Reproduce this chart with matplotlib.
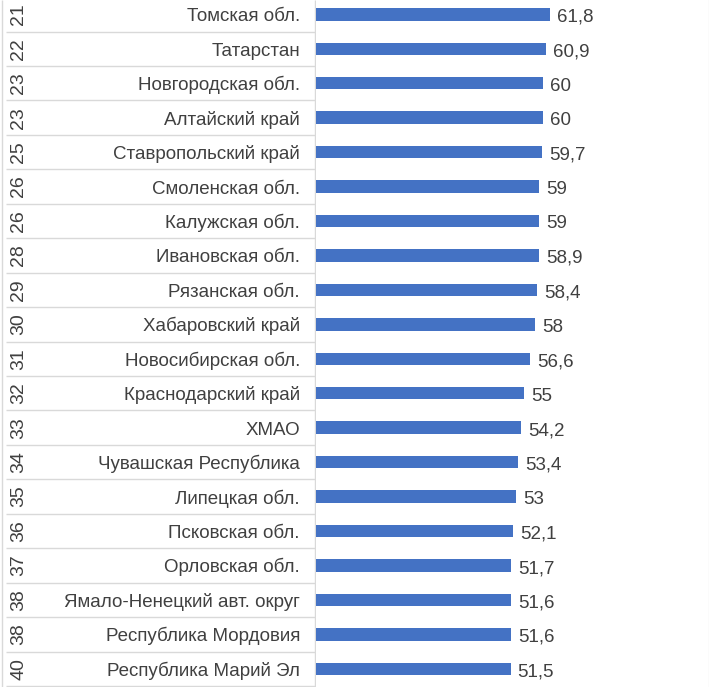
import numpy as np
import matplotlib.pyplot as plt

plt.rcParams['font.family'] = ['Liberation Sans', 'DejaVu Sans']

ranks = [21, 22, 23, 23, 25, 26, 26, 28, 29, 30, 31, 32, 33, 34, 35, 36, 37, 38, 38, 40]
regions = ['Томская обл.', 'Татарстан', 'Новгородская обл.', 'Алтайский край',
           'Ставропольский край', 'Смоленская обл.', 'Калужская обл.', 'Ивановская обл.',
           'Рязанская обл.', 'Хабаровский край', 'Новосибирская обл.', 'Краснодарский край',
           'ХМАО', 'Чувашская Республика', 'Липецкая обл.', 'Псковская обл.',
           'Орловская обл.', 'Ямало-Ненецкий авт. округ', 'Республика Мордовия',
           'Республика Марий Эл']
values = [61.8, 60.9, 60, 60, 59.7, 59, 59, 58.9, 58.4, 58, 56.6, 55, 54.2, 53.4, 53,
          52.1, 51.7, 51.6, 51.6, 51.5]

W, H = 709, 687
text_col = '#404040'
grid_col = '#d9d9d9'
bar_col = '#4472c4'

fig = plt.figure(figsize=(W / 100, H / 100), dpi=100)

# rows: centre of row 0 at 14.3 px from top, row height 34.45 px
row_h = 34.45
y0 = 14.3
ylim = ((H - y0) / row_h, -y0 / row_h)
pos = np.arange(len(values))

# left table part (pixel units on x)
split = 315.5
axl = fig.add_axes([0, 0, split / W, 1])
axl.set_xlim(0, split)
axl.set_ylim(*ylim)
axl.axis('off')
axl.hlines(np.arange(-1, len(values)) + 0.5, 6, split, color=grid_col, lw=1)
axl.vlines([2, split - 0.5], ylim[1], ylim[0], color=grid_col, lw=1)
for i, (r, name) in enumerate(zip(ranks, regions)):
    axl.text(18.5, i, str(r), rotation=90, ha='center', va='center',
             fontsize=14, color=text_col)
    axl.annotate(name, (300, i), xytext=(0, -7), textcoords='offset pixels',
                 ha='right', va='baseline', fontsize=13.5, color=text_col)

# bars
axr = fig.add_axes([split / W, 0, (W - split) / W, 1])
scale = 3.79  # px per unit
axr.set_xlim(0, (W - split) / scale)
axr.set_ylim(*ylim)
axr.barh(pos, values, height=0.36, color=bar_col)
for i, v in enumerate(values):
    lab = ('%g' % v).replace('.', ',')
    axr.annotate(lab, (v, i), xytext=(7, -7.5), textcoords='offset pixels',
                 ha='left', va='baseline', fontsize=13.5, color=text_col)
for s in ['left', 'top', 'bottom']:
    axr.spines[s].set_visible(False)
axr.spines['right'].set_color('#c8c8c8')
axr.set_xticks([])
axr.set_yticks([])

fig.savefig('out.png', dpi=100)
